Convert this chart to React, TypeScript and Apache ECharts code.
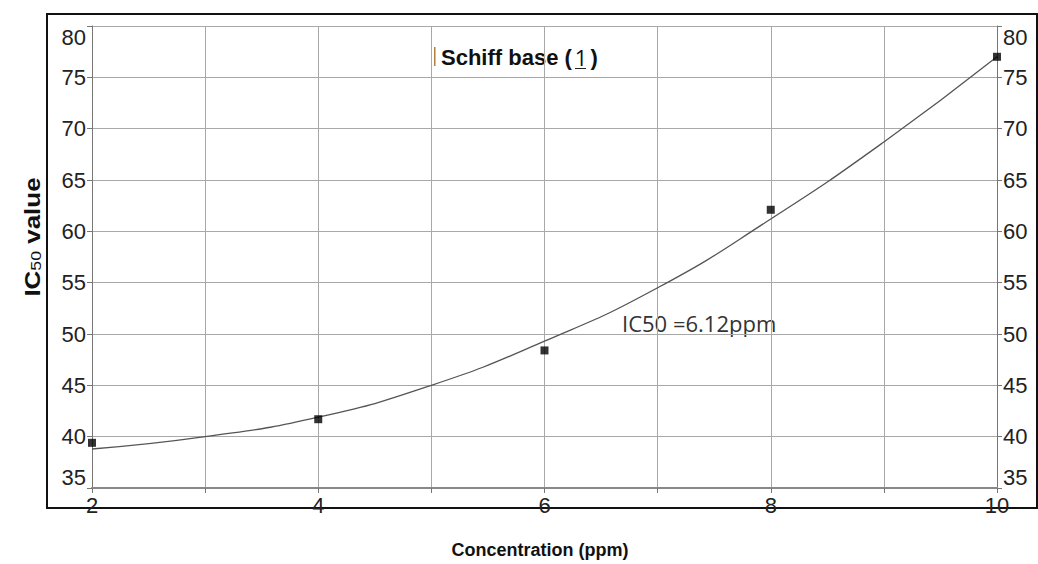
import React, { useEffect, useRef } from "react";
import * as echarts from "echarts";

const measuredX = [2, 4, 6, 8, 10];
const measuredY = [39.4, 41.7, 48.4, 62.1, 77.0];
const curveX = [2, 3, 4, 5, 6, 7, 8, 9, 10];
const curveY = [38.8, 40.0, 41.9, 45.0, 49.3, 54.5, 61.2, 68.7, 77.0];
const xTickLabels = ["2", "4", "6", "8", "10"];
const titleMain = "Schiff base (";
const titleNum = "1";
const titleEnd = ")";
const noteText = "IC50 =6.12ppm";
const xName = "Concentration (ppm)";

export default function App() {
  const ref = useRef<HTMLDivElement>(null);
  useEffect(() => {
    if (!ref.current) return;
    const chart = echarts.init(ref.current, null, { renderer: "svg" });
    const gridColor = "#a8a8a8";
    const labelStyle = { color: "#222", fontSize: 22, fontFamily: "Liberation Sans" };
    const yAxisBase = {
      type: "value" as const,
      min: 35,
      max: 80,
      interval: 5,
      axisLine: { show: true, lineStyle: { color: "#777", width: 1 } },
      axisTick: { show: true, length: 5, lineStyle: { color: "#777" } },
      splitLine: { show: true, lineStyle: { color: gridColor, width: 1 } },
      axisLabel: {
        ...labelStyle,
        margin: 6,
        verticalAlignMinLabel: "bottom",
        verticalAlignMaxLabel: "top",
      },
    };
    chart.setOption({
      animation: false,
      backgroundColor: "#fff",
      grid: { left: 92, right: 41, top: 26, bottom: 76, containLabel: false },
      xAxis: {
        type: "value",
        min: 2,
        max: 10,
        interval: 1,
        axisLine: { show: true, onZero: false, lineStyle: { color: "#888", width: 2 } },
        axisTick: { show: true, length: 5, lineStyle: { color: "#777" } },
        splitLine: { show: true, lineStyle: { color: gridColor, width: 1 } },
        axisLabel: {
          ...labelStyle,
          margin: 6,
          formatter: (v: number) => (xTickLabels.includes(String(v)) ? String(v) : ""),
        },
      },
      yAxis: [
        { ...yAxisBase, position: "left" },
        { ...yAxisBase, position: "right", splitLine: { show: false } },
      ],
      series: [
        {
          type: "line",
          data: curveX.map((x, i) => [x, curveY[i]]),
          smooth: true,
          showSymbol: false,
          symbol: "none",
          lineStyle: { color: "#555", width: 1.3 },
          z: 2,
        },
        {
          type: "scatter",
          data: measuredX.map((x, i) => [x, measuredY[i]]),
          symbol: "rect",
          symbolSize: 8,
          itemStyle: { color: "#000" },
          z: 3,
        },
      ],
      graphic: [
        {
          type: "rect",
          shape: { x: 47, y: 14, width: 990, height: 494 },
          style: { fill: "none", stroke: "#111", lineWidth: 2 },
          silent: true,
        },
        {
          type: "rect",
          shape: { x: 434, y: 47, width: 1.5, height: 19 },
          style: { fill: "#b08040" },
        },
        {
          type: "text",
          x: 441,
          y: 57,
          style: {
            text: "{a|" + titleMain + "}{n|" + titleNum + "}{a|" + titleEnd + "}",
            verticalAlign: "middle",
            rich: {
              a: { font: "bold 22px 'Liberation Sans'", fill: "#111" },
              n: { font: "22px 'Open Sans'", fill: "#111", padding: [0, 3, 0, 3] },
            },
          },
        },
        {
          type: "rect",
          shape: { x: 575, y: 68, width: 11, height: 1 },
          style: { fill: "#222" },
        },
        {
          type: "text",
          x: 622,
          y: 323,
          style: {
            text: noteText,
            fill: "#333",
            font: "22px 'Open Sans'",
            verticalAlign: "middle",
          },
        },
        {
          type: "text",
          x: 540,
          y: 550,
          style: {
            text: xName,
            fill: "#111",
            font: "bold 18px 'Liberation Sans'",
            align: "center",
            verticalAlign: "middle",
          },
        },
        {
          type: "text",
          x: 32,
          y: 237,
          rotation: Math.PI / 2,
          scaleX: 1.18,
          style: {
            text: "{a|IC}{b|50}{a| value}",
            align: "center",
            verticalAlign: "middle",
            rich: {
              a: { font: "bold 22px 'Liberation Sans'", fill: "#111" },
              b: { font: "15px 'Liberation Sans'", fill: "#111", verticalAlign: "bottom", padding: [8, 0, 0, 0] },
            },
          },
        },
      ],
    });
    return () => chart.dispose();
  }, []);
  return (
    <div
      ref={ref}
      style={{ position: "absolute", left: 0, top: 0, width: 1038, height: 564 }}
    />
  );
}
